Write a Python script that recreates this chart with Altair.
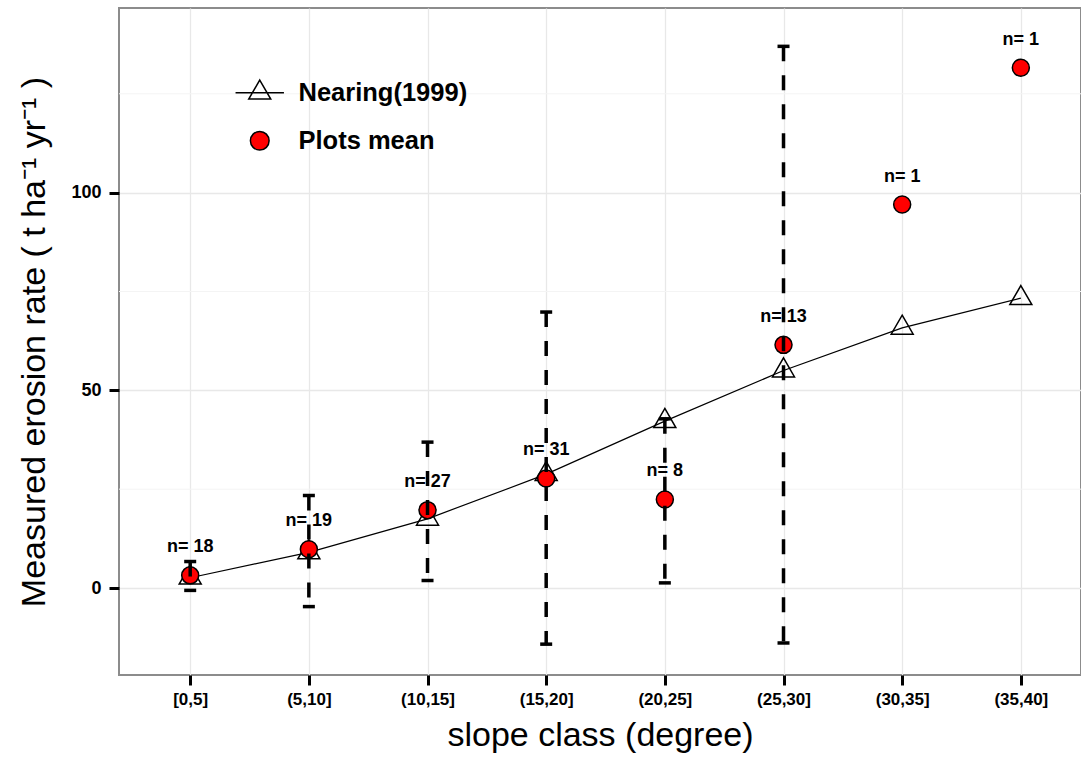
import altair as alt
import pandas as pd

# Slope classes and measured / modelled erosion rates (t ha-1 yr-1)
categories = ["[0,5]", "(5,10]", "(10,15]", "(15,20]", "(20,25]", "(25,30]", "(30,35]", "(35,40]"]
nearing = [2.6, 9.0, 17.5, 28.8, 42.2, 55.0, 65.8, 73.3]
plots_mean = [3.2, 9.8, 19.7, 27.7, 22.4, 61.5, 97.0, 131.6]
err_low = [-0.6, -4.7, 1.9, -14.2, 1.3, -13.9, None, None]
err_high = [6.7, 23.4, 36.9, 69.8, 42.8, 137.0, None, None]
n_plots = [18, 19, 27, 31, 8, 13, 1, 1]

y_major = [0, 50, 100]
y_minor = [25, 75, 125]
series_names = ["Nearing(1999)", "Plots mean"]

FONT = "Liberation Sans"

df = pd.DataFrame({
    "idx": list(range(1, len(categories) + 1)),
    "slope": categories,
    "nearing": nearing,
    "mean": plots_mean,
    "lo": err_low,
    "hi": err_high,
    "label": [f"n= {n}" for n in n_plots],
})
err_df = df.dropna(subset=["lo", "hi"])
minor_df = pd.DataFrame({"v": y_minor})
legend_df = pd.DataFrame({"series": series_names})

# discrete classes on an index scale (0.6 class of padding left, panel runs past the right edge)
xscale = alt.Scale(domain=[0.4, 8.507], nice=False, zero=False)
yscale = alt.Scale(domain=[-22, 146.7], nice=False, zero=False)

label_list = "[" + ",".join(f"'{c}'" for c in categories) + "]"

x_axis = alt.Axis(
    values=list(range(1, len(categories) + 1)),
    labelExpr=f"{label_list}[datum.value - 1]",
    title="slope class (degree)",
    titleFont=FONT, titleFontSize=34, titleFontWeight="normal", titleColor="black",
    titlePadding=11,
    labelFont=FONT, labelFontSize=17, labelFontWeight="bold", labelColor="black",
    labelPadding=6, labelFlush=False,
    tickColor="black", tickSize=10, tickWidth=3,
    domain=False,
    grid=True, gridColor="#e8e8e8", gridWidth=1.3,
)
y_axis = alt.Axis(
    values=y_major,
    title="Measured erosion rate ( t ha\u207b\u00b9 yr\u207b\u00b9 )",
    titleFont=FONT, titleFontSize=34, titleFontWeight="normal", titleColor="black",
    titlePadding=19,
    labelFont=FONT, labelFontSize=18, labelFontWeight="bold", labelColor="black",
    labelPadding=8,
    tickColor="black", tickSize=10, tickWidth=3,
    domain=False,
    grid=True, gridColor="#e8e8e8", gridWidth=1.3,
)


def X(field="idx"):
    return alt.X(f"{field}:Q", scale=xscale, axis=x_axis)


def Y(field):
    return alt.Y(f"{field}:Q", scale=yscale, axis=y_axis)


# triangle centred on its centroid, as drawn for the Nearing curve
tri_path = "M0,-1.155L1,0.577L-1,0.577Z"
tri_legend_path = "M-2.2,0L2.2,0M0,-1.155L1,0.577L-1,0.577Z"
circle_legend_path = "M-0.85,0A0.85,0.85,0,1,1,0.85,0A0.85,0.85,0,1,1,-0.85,0Z"

minor_grid = alt.Chart(minor_df).mark_rule(color="#f4f4f4", strokeWidth=1).encode(
    y=Y("v")
)

base = alt.Chart(df)

nearing_line = base.mark_line(color="black", strokeWidth=1.2).encode(
    x=X(), y=Y("nearing"),
)

nearing_pts = base.mark_point(
    shape=tri_path, size=484, filled=False, color="black", strokeWidth=1.5, opacity=1
).encode(x=X(), y=Y("nearing"))

mean_pts = base.mark_point(
    shape="circle", size=289, filled=True, fill="#ff0000", stroke="black",
    strokeWidth=1.5, opacity=1
).encode(x=X(), y=Y("mean"))

err_bars = alt.Chart(err_df).mark_rule(
    color="black", strokeWidth=3.5, strokeDash=[15, 14]
).encode(x=X(), y=Y("hi"), y2="lo:Q")

cap_hi = alt.Chart(err_df).mark_tick(
    orient="horizontal", color="black", size=12, thickness=3.5, opacity=1
).encode(x=X(), y=Y("hi"))

cap_lo = alt.Chart(err_df).mark_tick(
    orient="horizontal", color="black", size=12, thickness=3.5, opacity=1
).encode(x=X(), y=Y("lo"))

n_text = base.mark_text(
    dy=-28, font=FONT, fontSize=18, fontWeight="bold", color="black"
).encode(x=X(), y=Y("mean"), text="label:N")

legend = alt.Legend(
    title=None, orient="none", legendX=128, legendY=72,
    labelFont=FONT, labelFontSize=25.5, labelFontWeight="bold", labelColor="black",
    labelLimit=400,
    symbolSize=484, symbolStrokeWidth=1.5,
    labelOffset=26, rowPadding=21, padding=0,
)

legend_layer = alt.Chart(legend_df).mark_point(
    filled=True, strokeWidth=1.5, opacity=1
).encode(
    shape=alt.Shape("series:N", scale=alt.Scale(domain=series_names,
                    range=[tri_legend_path, circle_legend_path]), legend=legend),
    fill=alt.Fill("series:N", scale=alt.Scale(domain=series_names,
                  range=["transparent", "#ff0000"]), legend=legend),
    stroke=alt.Stroke("series:N", scale=alt.Scale(domain=series_names,
                      range=["black", "black"]), legend=legend),
).transform_filter("datum.series == 'none'")

chart = alt.layer(
    minor_grid, nearing_line, nearing_pts, mean_pts, err_bars, cap_hi, cap_lo, n_text,
    legend_layer,
).properties(
    width=962, height=667,
    autosize=alt.AutoSizeParams(type="none"),
    padding={"left": 119, "top": 8, "right": 0, "bottom": 85},
    background="white",
).configure_view(stroke="#8c8c8c", strokeWidth=2)

chart.save("out.html", embed_options={"renderer": "svg", "actions": False})
